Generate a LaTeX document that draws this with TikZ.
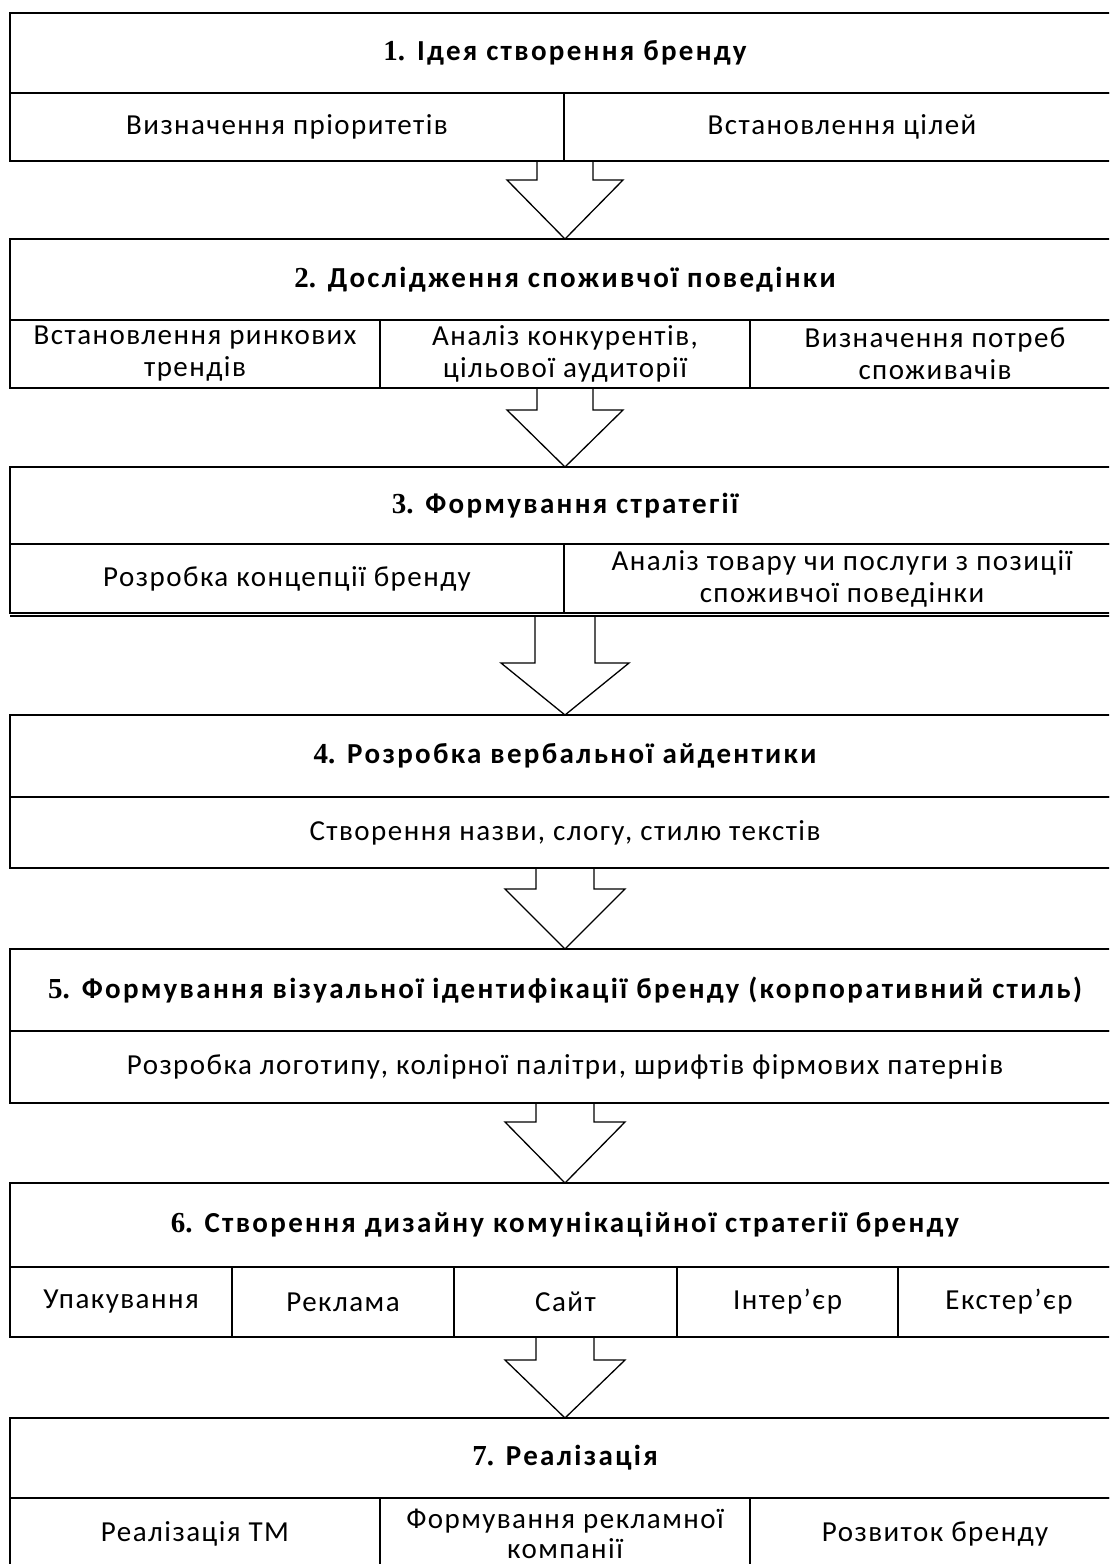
\documentclass[tikz,border=0pt]{standalone}
\usepackage{fontspec}
\setmainfont{Carlito}[LetterSpace=5, BoldFeatures={LetterSpace=8}]
\newfontfamily\numfont{Liberation Serif}
\usetikzlibrary{calc}
\newcommand\bodyfont{\fontsize{29}{32}\selectfont}
\newcommand\titlefont{\fontsize{29}{32}\selectfont\bfseries}
\newcommand\nm[1]{{\numfont\bfseries #1}}
\newcommand\blockarrow[5]{%
  \draw[barrow] ($(#2.north |- #1.south)+(-#3,0)$) -- ($(#2.north)+(-#3,-#5)$)
    -- ($(#2.north)+(-#4,-#5)$) -- (#2.north) -- ($(#2.north)+(#4,-#5)$)
    -- ($(#2.north)+(#3,-#5)$) -- ($(#2.north |- #1.south)+(#3,0)$);}
\tikzset{
  cell/.style={draw, line width=1.3pt, inner sep=0pt, outer sep=0pt, anchor=north west, align=center, font=\bodyfont},
  ttl/.style={cell, font=\titlefont, minimum width=1110pt},
  barrow/.style={draw, line width=1.3pt, line join=miter},
}
\begin{document}
\begin{tikzpicture}[x=1pt, y=-1pt]
\useasboundingbox (0,0) rectangle (1109,1564);
\clip (0,0) rectangle (1109,1564);
% Block 1
\node[ttl, minimum height=80pt] (t1) at (10,13) {\nm{1.} Ідея створення бренду};
\node[cell, minimum width=554pt, minimum height=68pt] (s1a) at (10,93) {Визначення пріоритетів};
\node[cell, minimum width=556pt, minimum height=68pt] (s1b) at (564,93) {Встановлення цілей};
% Block 2
\node[ttl, minimum height=81pt] (t2) at (10,239) {\nm{2.} Дослідження споживчої поведінки};
\node[cell, minimum width=370pt, minimum height=68pt] (s2a) at (10,320) {Встановлення ринкових\\трендів};
\node[cell, minimum width=370pt, minimum height=68pt] (s2b) at (380,320) {Аналіз конкурентів,\\цільової аудиторії};
\node[cell, minimum width=370pt, minimum height=68pt] (s2c) at (750,320) {Визначення потреб\\споживачів};
% Block 3
\node[ttl, minimum height=77pt] (t3) at (10,467) {\nm{3.} Формування стратегії};
\node[cell, minimum width=554pt, minimum height=69pt] (s3a) at (10,544) {Розробка концепції бренду};
\node[cell, minimum width=556pt, minimum height=69pt] (s3b) at (564,544) {Аналіз товару чи послуги з позиції\\споживчої поведінки};
\coordinate (d3l) at (10,616);
\coordinate (d3r) at (1120,616);
\draw[line width=1.3pt] (d3l) -- (d3r);
% Block 4
\node[ttl, minimum height=82pt] (t4) at (10,715) {\nm{4.} Розробка вербальної айдентики};
\node[cell, minimum width=1110pt, minimum height=71pt] (s4a) at (10,797) {Створення назви, слогу, стилю текстів};
% Block 5
\node[ttl, minimum height=82pt] (t5) at (10,949) {\nm{5.} Формування візуальної ідентифікації бренду (корпоративний стиль)};
\node[cell, minimum width=1110pt, minimum height=72pt] (s5a) at (10,1031) {Розробка логотипу, колірної палітри, шрифтів фірмових патернів};
% Block 6
\node[ttl, minimum height=84pt] (t6) at (10,1183) {\nm{6.} Створення дизайну комунікаційної стратегії бренду};
\node[cell, minimum width=222pt, minimum height=70pt] (s6a) at (10,1267) {Упакування};
\node[cell, minimum width=222pt, minimum height=70pt] (s6b) at (232,1267) {Реклама};
\node[cell, minimum width=223pt, minimum height=70pt] (s6c) at (454,1267) {Сайт};
\node[cell, minimum width=221pt, minimum height=70pt] (s6d) at (677,1267) {Інтер’єр};
\node[cell, minimum width=222pt, minimum height=70pt] (s6e) at (898,1267) {Екстер’єр};
% Block 7
\node[ttl, minimum height=80pt] (t7) at (10,1418) {\nm{7.} Реалізація};
\node[cell, minimum width=370pt, minimum height=72pt] (s7a) at (10,1498) {Реалізація ТМ};
\node[cell, minimum width=370pt, minimum height=72pt, font=\fontsize{29}{30}\selectfont] (s7b) at (380,1498) {Формування рекламної\\компанії};
\node[cell, minimum width=370pt, minimum height=72pt] (s7c) at (750,1498) {Розвиток бренду};
% Arrows
\blockarrow{s1a}{t2}{28}{58}{59}
\blockarrow{s2a}{t3}{28}{58}{57}
\blockarrow{d3l}{t4}{30}{64}{52}
\blockarrow{s4a}{t5}{29}{60}{60}
\blockarrow{s5a}{t6}{29}{60}{61}
\blockarrow{s6a}{t7}{29}{60}{58}
\end{tikzpicture}
\end{document}
